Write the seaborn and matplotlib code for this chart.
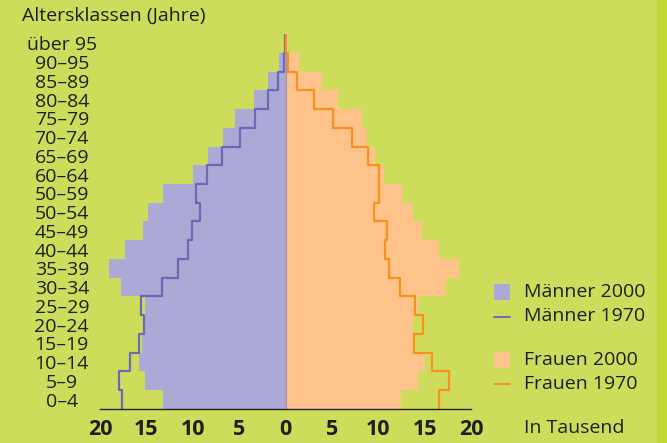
import numpy as np
import pandas as pd
import matplotlib
matplotlib.use("Agg")
import matplotlib.pyplot as plt
import seaborn as sns
from matplotlib.patches import Rectangle
from matplotlib.lines import Line2D

labels = ["über 95", "90–95", "85–89", "80–84", "75–79", "70–74", "65–69", "60–64",
          "50–59", "50–54", "45–49", "40–44", "35–39", "30–34", "25–29", "20–24",
          "15–19", "10–14", "5–9", "0–4"]
men_2000 = [0.1, 0.7, 1.9, 3.4, 5.4, 6.7, 8.4, 10.0, 13.2, 14.8, 15.4, 17.3, 19.0, 17.7,
            15.2, 15.2, 15.5, 15.8, 15.2, 13.2]
men_1970 = [0.1, 0.2, 0.8, 1.9, 3.3, 4.9, 6.8, 8.5, 9.7, 9.2, 10.1, 10.5, 11.6, 13.3,
            15.6, 15.3, 15.8, 16.8, 17.9, 17.6]
women_2000 = [0.3, 1.5, 3.9, 5.7, 8.3, 8.8, 9.6, 10.6, 12.6, 13.8, 14.7, 16.6, 18.7, 17.3,
              14.3, 13.8, 14.0, 15.0, 14.3, 12.5]
women_1970 = [0.05, 0.25, 1.2, 3.1, 5.1, 7.2, 8.9, 10.1, 10.1, 9.5, 10.9, 10.7, 11.2, 12.3,
              14.0, 14.8, 13.9, 15.8, 17.6, 16.5]
x_ticks = [-20, -15, -10, -5, 0, 5, 10, 15, 20]

BG = "#CDDD5B"
STRIP = "#C3D836"
MEN_FILL = "#ACA9D6"
MEN_LINE = "#6C6AB6"
WOM_FILL = "#FDC38B"
WOM_LINE = "#F7921E"
TXT = "#1E1E1E"
FS = 14

sns.set_style("white")
plt.rcParams["font.family"] = ["Open Sans", "DejaVu Sans"]

W, H = 667, 443
fig = plt.figure(figsize=(W / 100, H / 100), dpi=100, facecolor=BG)
ax = fig.add_axes([100 / W, 1 - 409 / H, (471 - 100) / W, (409 - 34) / H])
ax.set_facecolor(BG)

df = pd.DataFrame({"label": labels,
                   "men": -np.array(men_2000),
                   "women": np.array(women_2000)})
sns.barplot(data=df, x="men", y="label", orient="h", width=1.0, color=MEN_FILL,
            saturation=1, edgecolor="none", linewidth=0, ax=ax)
sns.barplot(data=df, x="women", y="label", orient="h", width=1.0, color=WOM_FILL,
            saturation=1, edgecolor="none", linewidth=0, ax=ax)

# step lines for 1970
n = len(labels)
pos = np.arange(n)
ys = np.column_stack([pos - 0.5, pos + 0.5]).ravel()
mx = -np.repeat(np.array(men_1970), 2)
wx = np.repeat(np.array(women_1970), 2)
sns.lineplot(x=mx, y=ys, sort=False, estimator=None, orient="y", color=MEN_LINE,
             linewidth=1.6, ax=ax)
sns.lineplot(x=wx, y=ys, sort=False, estimator=None, orient="y", color=WOM_LINE,
             linewidth=1.6, ax=ax)

ax.plot([0, 0], [n - 0.5, -0.5], color="#9C8E9C", lw=0.7, zorder=1.5)

ax.set_xlim(-20, 20)
ax.set_ylim(n - 0.5, -0.5)
ax.set_xlabel("")
ax.set_ylabel("")
for s in ["top", "right", "left"]:
    ax.spines[s].set_visible(False)
ax.spines["bottom"].set_color("#222222")
ax.spines["bottom"].set_linewidth(1.0)
ax.set_xticks(x_ticks)
ax.set_xticklabels([str(abs(t)) for t in x_ticks], fontsize=15.5, fontweight="bold",
                   color=TXT)
ax.tick_params(axis="x", direction="out", length=4, width=1, color="#222222", pad=3)
ax.tick_params(axis="y", length=0, pad=27.5)
for t in ax.get_yticklabels():
    t.set_ha("center")
    t.set_fontsize(FS)
    t.set_color(TXT)
ax.grid(False)

# decorations
fig.add_artist(Rectangle((657 / W, 0), 10 / W, 1, transform=fig.transFigure,
                         color=STRIP, lw=0, zorder=-1))
fig.text(22 / W, 1 - 16 / H, "Altersklassen (Jahre)", fontsize=FS, color=TXT,
         va="center", ha="left")

def fy(p):
    return 1 - p / H

fig.add_artist(Rectangle((494 / W, fy(300)), 16 / W, 16 / H, transform=fig.transFigure,
                         color=MEN_FILL, lw=0))
fig.add_artist(Line2D([494 / W, 510 / W], [fy(316.7)] * 2, transform=fig.transFigure,
                      color=MEN_LINE, lw=1.4))
fig.add_artist(Rectangle((494 / W, fy(368)), 16 / W, 16 / H, transform=fig.transFigure,
                         color=WOM_FILL, lw=0))
fig.add_artist(Line2D([494 / W, 510 / W], [fy(384.3)] * 2, transform=fig.transFigure,
                      color=WOM_LINE, lw=1.4))
for txt, yy in [("Männer 2000", 292), ("Männer 1970", 316), ("Frauen 2000", 360),
                ("Frauen 1970", 384), ("In Tausend", 428)]:
    fig.text(524 / W, fy(yy), txt, fontsize=FS, color=TXT, va="center", ha="left")

fig.savefig("out.png", dpi=100, facecolor=BG)
